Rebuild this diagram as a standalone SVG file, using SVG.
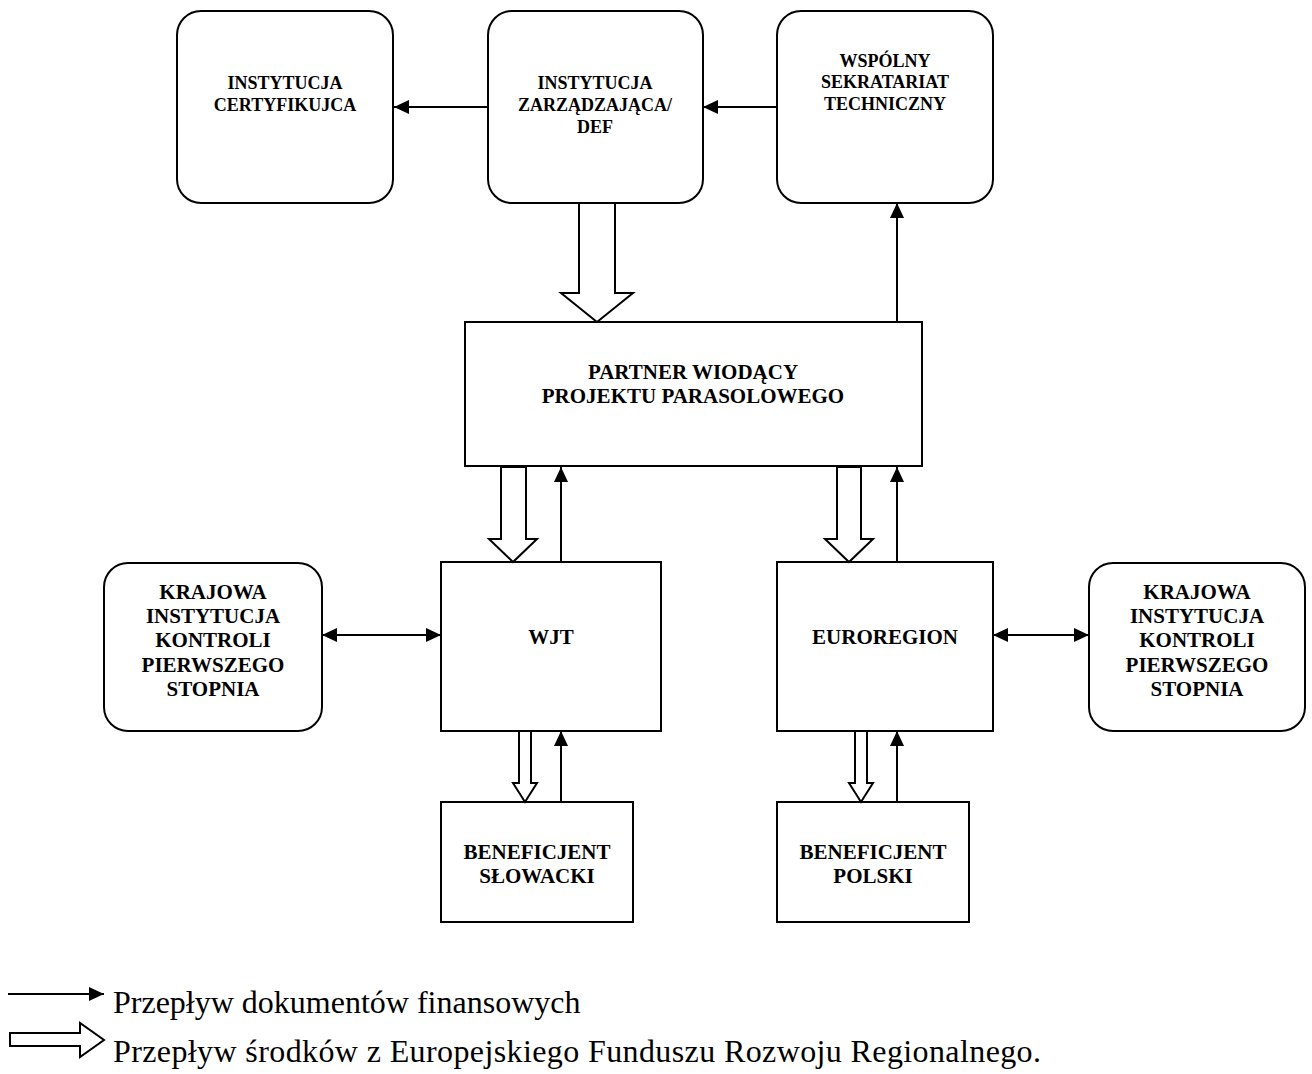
<svg xmlns="http://www.w3.org/2000/svg" width="1312" height="1074" viewBox="0 0 1312 1074">
<defs>
<style>
.box{fill:#fff;stroke:#000;stroke-width:2}
.t{font-family:"Liberation Serif","Times New Roman",serif;font-weight:bold;font-size:21px;text-anchor:middle;fill:#000}
.ts{font-size:18px}
.leg{font-family:"Liberation Serif","Times New Roman",serif;font-size:32px;fill:#000}
.ln{stroke:#000;stroke-width:2;fill:none}
.blk{fill:#fff;stroke:#000;stroke-width:2;stroke-linejoin:miter}
</style>
<marker id="ah" viewBox="0 0 15 14" refX="15" refY="7" markerWidth="15" markerHeight="14" markerUnits="userSpaceOnUse" orient="auto-start-reverse">
<path d="M0,0 L15,7 L0,14 Z" fill="#000"/>
</marker>
</defs>
<rect width="1312" height="1074" fill="#fff"/>

<g id="n-cert">
<rect class="box" x="177" y="11" width="216" height="192" rx="24" ry="24"/>
<text class="t ts" x="285" y="89">INSTYTUCJA</text>
<text class="t ts" x="285" y="111">CERTYFIKUJCA</text>
</g>
<g id="n-zarz">
<rect class="box" x="488" y="11" width="215" height="192" rx="24" ry="24"/>
<text class="t ts" x="595" y="89">INSTYTUCJA</text>
<text class="t ts" x="595" y="111">ZARZĄDZAJĄCA/</text>
<text class="t ts" x="595" y="133">DEF</text>
</g>
<g id="n-wst">
<rect class="box" x="777" y="11" width="216" height="192" rx="24" ry="24"/>
<text class="t ts" x="885" y="67">WSPÓLNY</text>
<text class="t ts" x="885" y="88">SEKRATARIAT</text>
<text class="t ts" x="885" y="110">TECHNICZNY</text>
</g>
<g id="n-partner">
<rect class="box" x="465" y="322" width="457" height="144"/>
<text class="t" x="693" y="379">PARTNER WIODĄCY</text>
<text class="t" x="693" y="403">PROJEKTU PARASOLOWEGO</text>
</g>
<g id="n-kk1">
<rect class="box" x="104" y="563" width="218" height="168" rx="24" ry="24"/>
<text class="t" x="213" y="599">KRAJOWA</text>
<text class="t" x="213" y="623">INSTYTUCJA</text>
<text class="t" x="213" y="647">KONTROLI</text>
<text class="t" x="213" y="672">PIERWSZEGO</text>
<text class="t" x="213" y="696">STOPNIA</text>
</g>
<g id="n-wjt">
<rect class="box" x="441" y="562" width="220" height="169"/>
<text class="t" x="551" y="644">WJT</text>
</g>
<g id="n-euro">
<rect class="box" x="777" y="562" width="216" height="169"/>
<text class="t" x="885" y="644">EUROREGION</text>
</g>
<g id="n-kk2">
<rect class="box" x="1089" y="563" width="216" height="168" rx="24" ry="24"/>
<text class="t" x="1197" y="599">KRAJOWA</text>
<text class="t" x="1197" y="623">INSTYTUCJA</text>
<text class="t" x="1197" y="647">KONTROLI</text>
<text class="t" x="1197" y="672">PIERWSZEGO</text>
<text class="t" x="1197" y="696">STOPNIA</text>
</g>
<g id="n-bsk">
<rect class="box" x="441" y="802" width="192" height="120"/>
<text class="t" x="537" y="859">BENEFICJENT</text>
<text class="t" x="537" y="883">SŁOWACKI</text>
</g>
<g id="n-bpl">
<rect class="box" x="777" y="802" width="192" height="120"/>
<text class="t" x="873" y="859">BENEFICJENT</text>
<text class="t" x="873" y="883">POLSKI</text>
</g>

<g id="connectors">
<line class="ln" x1="488" y1="107" x2="394" y2="107" marker-end="url(#ah)"/>
<line class="ln" x1="777" y1="107" x2="703" y2="107" marker-end="url(#ah)"/>
<line class="ln" x1="897" y1="322" x2="897" y2="203" marker-end="url(#ah)"/>
<polygon class="blk" points="579,203 615,203 615,293 633,293 597,322 561,293 579,293"/>
<polygon class="blk" points="501,467 526,467 526,539 537,539 513,562 489,539 501,539"/>
<line class="ln" x1="561" y1="562" x2="561" y2="467" marker-end="url(#ah)"/>
<polygon class="blk" points="837,467 861,467 861,539 873,539 849,562 825,539 837,539"/>
<line class="ln" x1="897" y1="562" x2="897" y2="467" marker-end="url(#ah)"/>
<line class="ln" x1="322" y1="635" x2="441" y2="635" marker-start="url(#ah)" marker-end="url(#ah)"/>
<line class="ln" x1="993" y1="635" x2="1089" y2="635" marker-start="url(#ah)" marker-end="url(#ah)"/>
<polygon class="blk" points="519,731 531,731 531,783 537,783 525,802 513,783 519,783"/>
<line class="ln" x1="561" y1="802" x2="561" y2="731" marker-end="url(#ah)"/>
<polygon class="blk" points="855,731 867,731 867,783 873,783 861,802 849,783 855,783"/>
<line class="ln" x1="897" y1="802" x2="897" y2="731" marker-end="url(#ah)"/>
</g>

<g id="legend">
<line class="ln" x1="8" y1="994" x2="104" y2="994" marker-end="url(#ah)"/>
<polygon class="blk" points="10,1033 80,1033 80,1023 104,1040 80,1057 80,1046 10,1046"/>
<text class="leg" x="113" y="1013">Przepływ dokumentów finansowych</text>
<text class="leg" x="113" y="1062" textLength="928" lengthAdjust="spacing">Przepływ środków z Europejskiego Funduszu Rozwoju Regionalnego.</text>
</g>
</svg>
